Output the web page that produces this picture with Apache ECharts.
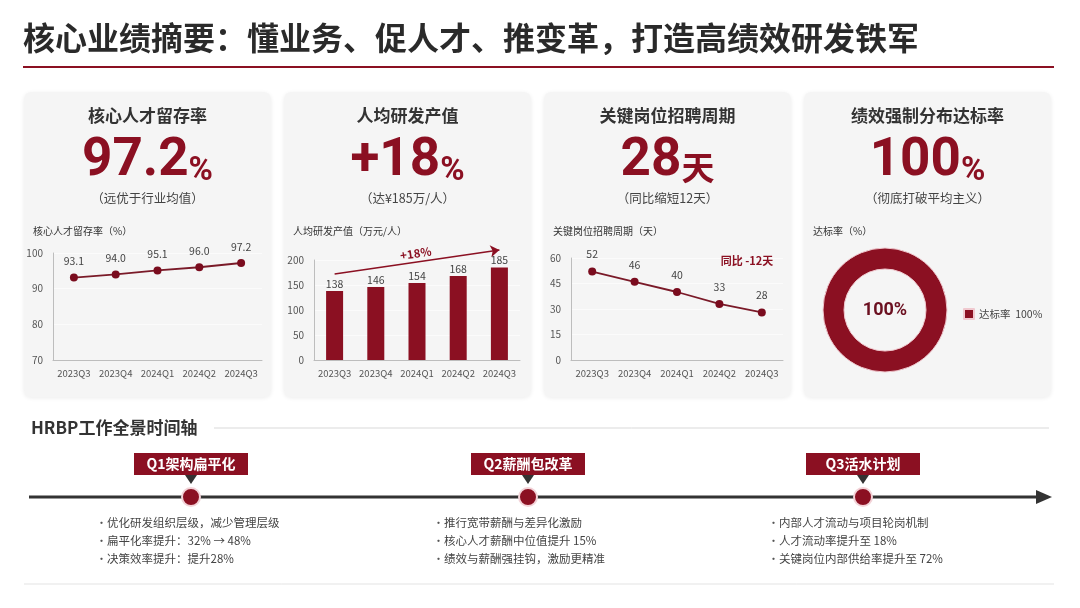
<!DOCTYPE html>
<html>
<head>
<meta charset="utf-8">
<script src="https://cdn.jsdelivr.net/npm/echarts@6/dist/echarts.min.js"></script>
<style>
  html, body { margin: 0; padding: 0; background: #fff; }
  #main { width: 1080px; height: 608px; }
</style>
</head>
<body>
<div id="main"></div>
<script>
// 数据
var quarters = ['2023Q3', '2023Q4', '2024Q1', '2024Q2', '2024Q3'];
var retention = [93.1, 94.0, 95.1, 96.0, 97.2];
var rdOutput = [138, 146, 154, 168, 185];
var hireDays = [52, 46, 40, 33, 28];
var compliance = [100];

var retentionTicks = [70, 100, 10];   // min, max, interval
var outputTicks = [0, 200, 50];
var hireTicks = [0, 60, 15];
var outputTrend = [172, 220];         // 趋势箭头起止（万元/人）

var cards = [
  { title: '核心人才留存率', num: '97.2', unit: '%', sub: '（远优于行业均值）', chart: '核心人才留存率（%）' },
  { title: '人均研发产值', num: '+18', unit: '%', sub: '（达¥185万/人）', chart: '人均研发产值（万元/人）' },
  { title: '关键岗位招聘周期', num: '28', unit: '天', sub: '（同比缩短12天）', chart: '关键岗位招聘周期（天）' },
  { title: '绩效强制分布达标率', num: '100', unit: '%', sub: '（彻底打破平均主义）', chart: '达标率（%）' }
];

var phases = ['Q1架构扁平化', 'Q2薪酬包改革', 'Q3活水计划'];
var phaseNotes = [
  ['优化研发组织层级，减少管理层级', '扁平化率提升：32% → 48%', '决策效率提升：提升28%'],
  ['推行宽带薪酬与差异化激励', '核心人才薪酬中位值提升 15%', '绩效与薪酬强挂钩，激励更精准'],
  ['内部人才流动与项目轮岗机制', '人才流动率提升至 18%', '关键岗位内部供给率提升至 72%']
];

var RED = '#8B1022';
var FONT = "'Noto Sans CJK SC', sans-serif";
var NUMFONT = "Roboto, 'Noto Sans CJK SC', sans-serif";

var chart = echarts.init(document.getElementById('main'));

function txt(x, y, text, size, color, align, weight) {
  return {
    type: 'text', x: x, y: y, z: 50,
    style: {
      text: text, fontSize: size, fill: color, fontFamily: FONT,
      fontWeight: weight || 'normal', align: align || 'left', verticalAlign: 'middle'
    }
  };
}

var g = [];
// 标题
g.push(txt(23, 38, '核心业绩摘要：懂业务、促人才、推变革，打造高绩效研发铁军', 32, '#2a2a2a', 'left', 'bold'));
g.push({ type: 'rect', z: 1, shape: { x: 23, y: 66, width: 1031, height: 2 }, style: { fill: RED } });

// 卡片
var cardX = [24, 284, 544, 804];
cards.forEach(function (c, i) {
  var x = cardX[i], cx = x + 123.5;
  g.push({
    type: 'rect', z: -5,
    shape: { x: x, y: 92, width: 247, height: 305, r: 7 },
    style: { fill: '#f5f5f5', shadowBlur: 4, shadowColor: 'rgba(0,0,0,0.08)', shadowOffsetY: 1 }
  });
  g.push(txt(cx, 116, c.title, 17, '#333', 'center', 'bold'));
  g.push({
    type: 'text', x: cx, y: 160, z: 50,
    style: {
      text: '{n|' + c.num + '}{u|' + c.unit + '}', align: 'center', verticalAlign: 'middle',
      rich: {
        n: { fontSize: 53, fontWeight: 'bold', fill: RED, fontFamily: NUMFONT, verticalAlign: 'bottom', lineHeight: 56 },
        u: { fontSize: 33, fontWeight: 'bold', fill: RED, fontFamily: NUMFONT, verticalAlign: 'bottom', lineHeight: 48 }
      }
    }
  });
  g.push(txt(cx, 198, c.sub, 12.5, '#444', 'center'));
  g.push(txt(x + 9, 231, c.chart, 10, '#333', 'left'));
});
g.push(txt(747, 261, '同比 -12天', 11, RED, 'center', 'bold'));

// 时间轴
g.push(txt(31, 428, 'HRBP工作全景时间轴', 17, '#333', 'left', 'bold'));
g.push({ type: 'line', z: 1, shape: { x1: 214, y1: 428, x2: 1049, y2: 428 }, style: { stroke: '#d9d9d9', lineWidth: 1 } });
g.push({ type: 'line', z: 1, shape: { x1: 29, y1: 497, x2: 1040, y2: 497 }, style: { stroke: '#333', lineWidth: 3 } });
g.push({ type: 'polygon', z: 1, shape: { points: [[1036, 490], [1052, 497], [1036, 504]] }, style: { fill: '#333' } });
g.push({ type: 'line', z: 1, shape: { x1: 24, y1: 584, x2: 1054, y2: 584 }, style: { stroke: '#e3e3e3', lineWidth: 1 } });

var nodeX = [191, 528, 863];
phases.forEach(function (p, i) {
  var nx = nodeX[i];
  g.push({ type: 'rect', z: 5, shape: { x: nx - 57, y: 453, width: 114, height: 22 }, style: { fill: RED } });
  g.push(txt(nx, 464, p, 14, '#fff', 'center', 'bold'));
  g.push({ type: 'polygon', z: 5, shape: { points: [[nx - 6, 475], [nx + 6, 475], [nx, 484]] }, style: { fill: '#333' } });
  g.push({ type: 'circle', z: 6, shape: { cx: nx, cy: 497, r: 9 }, style: { fill: RED, stroke: '#f3d3d8', lineWidth: 2 } });
  phaseNotes[i].forEach(function (n, j) {
    g.push(txt(nx - 95, 523 + j * 18, '•', 11, '#555', 'left'));
    g.push(txt(nx - 84, 523 + j * 18, n, 11.5, '#444', 'left'));
  });
});

var axisLabel = { fontSize: 9.5, color: '#555', fontFamily: FONT, interval: 0, margin: 9 };
var yLabel = { fontSize: 10, color: '#555', fontFamily: FONT, margin: 10 };
var axisLine = { show: true, lineStyle: { color: '#bdbdbd', width: 1 } };
var split = { show: true, lineStyle: { color: '#fbfbfb', width: 1 } };

function xAx(gi) {
  return { type: 'category', gridIndex: gi, data: quarters, axisLine: axisLine, axisTick: { show: false }, axisLabel: axisLabel };
}
function yAx(gi, t) {
  return {
    type: 'value', gridIndex: gi, min: t[0], max: t[1], interval: t[2],
    axisLine: axisLine, axisTick: { show: false }, axisLabel: yLabel, splitLine: split
  };
}

var option = {
  animation: false,
  graphic: { elements: g },
  grid: [
    { left: 53, top: 253, width: 209, height: 107 },
    { left: 314, top: 260, width: 206, height: 100 },
    { left: 571, top: 258, width: 212, height: 102 },
    // 与柱图同比例的隐形网格，只用于画趋势箭头
    { left: 314, top: 240, width: 206, height: 120 }
  ],
  xAxis: [xAx(0), xAx(1), xAx(2),
    { type: 'category', gridIndex: 3, data: quarters, show: false }],
  yAxis: [yAx(0, retentionTicks), yAx(1, outputTicks), yAx(2, hireTicks),
    { type: 'value', gridIndex: 3, min: 0, max: 240, show: false }],
  legend: {
    data: ['达标率'], orient: 'vertical', left: 958, top: 303,
    icon: 'rect', itemWidth: 10, itemHeight: 10, itemGap: 4,
    textStyle: { fontSize: 10.5, color: '#444', fontFamily: FONT },
    formatter: function (n) { return n + '  ' + compliance[0] + '%'; }
  },
  series: [
    {
      type: 'line', xAxisIndex: 0, yAxisIndex: 0, data: retention,
      symbol: 'circle', symbolSize: 8,
      itemStyle: { color: '#7a0c1e' }, lineStyle: { color: '#7a1a28', width: 1.8 },
      label: { show: true, position: 'top', distance: 7, fontSize: 10.5, color: '#444', fontFamily: FONT,
        formatter: function (p) { return p.value.toFixed(1); } }
    },
    {
      type: 'bar', xAxisIndex: 1, yAxisIndex: 1, data: rdOutput, barWidth: 17,
      itemStyle: { color: RED },
      label: { show: true, position: 'top', distance: 2, fontSize: 10.5, color: '#444', fontFamily: FONT }
    },
    {
      type: 'line', xAxisIndex: 3, yAxisIndex: 3, data: [], silent: true,
      markLine: {
        silent: true, symbol: ['none', 'arrow'], symbolSize: 9,
        lineStyle: { color: RED, width: 1.5, type: 'solid' },
        label: { show: true, position: 'insideMiddleTop', distance: 3, formatter: '+18%', color: RED, fontSize: 11.5, fontWeight: 'bold', fontFamily: FONT },
        data: [[{ coord: [0, outputTrend[0]] }, { coord: [4, outputTrend[1]] }]]
      }
    },
    {
      type: 'line', xAxisIndex: 2, yAxisIndex: 2, data: hireDays,
      symbol: 'circle', symbolSize: 8,
      itemStyle: { color: '#7a0c1e' }, lineStyle: { color: '#7a1a28', width: 1.8 },
      label: { show: true, position: 'top', distance: 8, fontSize: 10.5, color: '#444', fontFamily: FONT }
    },
    {
      type: 'pie', name: '达标率', center: [885, 310], radius: [41, 62],
      silent: true, label: { show: true, position: 'center', formatter: compliance[0] + '%',
        fontSize: 18, fontWeight: 'bold', color: '#6b1020', fontFamily: NUMFONT },
      labelLine: { show: false },
      itemStyle: { color: RED, borderColor: '#f0c9cf', borderWidth: 1 },
      data: [{ name: '达标率', value: compliance[0] }]
    }
  ]
};
chart.setOption(option);
</script>
</body>
</html>
